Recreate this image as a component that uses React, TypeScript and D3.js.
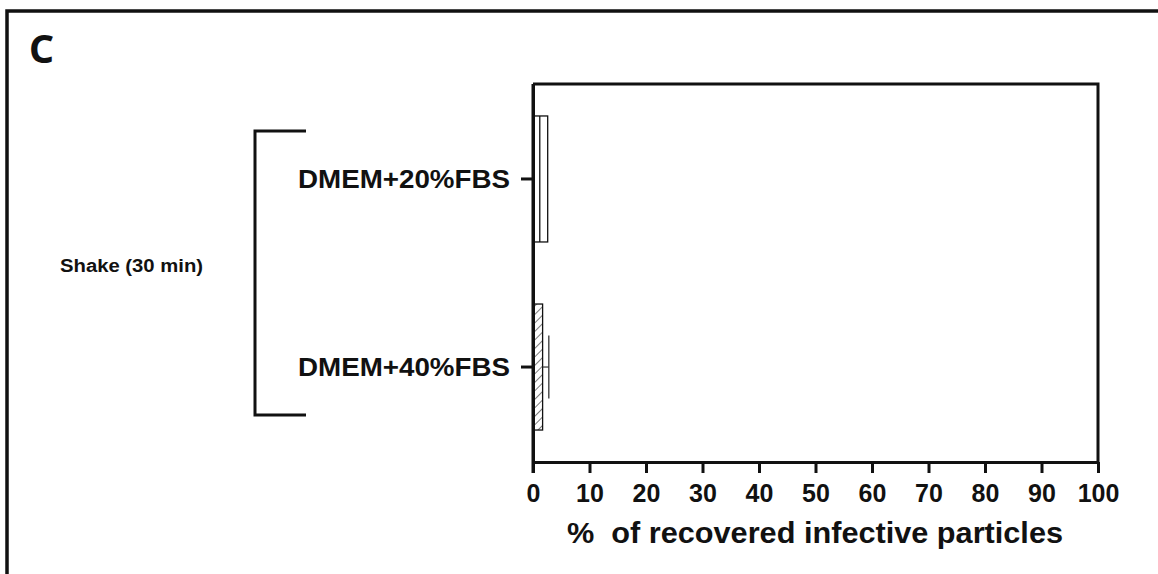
import { FC, useRef, useEffect } from 'react'
import * as d3 from 'd3'

const categories = ['DMEM+20%FBS', 'DMEM+40%FBS']
const means = [1.2, 1.7]
const errors = [1.4, 1.1]
const groupLabel = 'Shake (30 min)'
const xTicks = [0, 10, 20, 30, 40, 50, 60, 70, 80, 90, 100]
const xTitle = '%\u00a0 of recovered infective particles'
const panelLetter = 'C'

const FONT = "'Liberation Sans', Arial, Helvetica, sans-serif"

const App: FC = () => {
  const svgRef = useRef<SVGSVGElement>(null)

  useEffect(() => {
    if (!svgRef.current) return
    const svg = d3.select(svgRef.current)
    svg.selectAll('*').remove()

    const width = 1158
    const height = 574
    const plot = { left: 533, right: 1098, top: 84, bottom: 462 }

    svg.attr('width', width).attr('height', height)

    // hatch for second bar
    svg.append('defs')
      .append('pattern')
      .attr('id', 'hatch')
      .attr('patternUnits', 'userSpaceOnUse')
      .attr('width', 6)
      .attr('height', 6)
      .attr('patternTransform', 'rotate(45)')
      .append('line')
      .attr('x1', 0).attr('y1', 0)
      .attr('x2', 0).attr('y2', 6)
      .attr('stroke', '#222')
      .attr('stroke-width', 1.2)

    // outer frame
    svg.append('rect')
      .attr('x', 7).attr('y', 11)
      .attr('width', 1200).attr('height', 600)
      .attr('fill', 'white')
      .attr('stroke', '#111')
      .attr('stroke-width', 3.5)

    svg.append('text')
      .attr('x', 29).attr('y', 63)
      .attr('font-family', "'Noto Sans', 'Open Sans', sans-serif")
      .attr('font-weight', 'bold')
      .attr('font-size', 39)
      .attr('fill', '#111')
      .text(panelLetter)

    const xScale = d3.scaleLinear()
      .domain([0, 100])
      .range([plot.left, plot.right])

    const yScale = d3.scaleBand()
      .domain(categories)
      .range([plot.top, plot.bottom])
      .paddingInner(0.33)
      .paddingOuter(0.17)

    const g = svg.append('g')

    // bars
    categories.forEach((c, i) => {
      const y0 = yScale(c) || 0
      const bh = yScale.bandwidth()
      const cy = y0 + bh / 2
      if (i === 0) {
        // open bar, error drawn as box to mean + error
        g.append('rect')
          .attr('x', xScale(0))
          .attr('y', y0)
          .attr('width', xScale(means[i] + errors[i]) - xScale(0))
          .attr('height', bh)
          .attr('fill', 'white')
          .attr('stroke', '#111')
          .attr('stroke-width', 1.3)
        g.append('line')
          .attr('x1', xScale(means[i])).attr('x2', xScale(means[i]))
          .attr('y1', y0).attr('y2', y0 + bh)
          .attr('stroke', '#111')
          .attr('stroke-width', 1.3)
      } else {
        g.append('rect')
          .attr('x', xScale(0))
          .attr('y', y0)
          .attr('width', xScale(means[i]) - xScale(0))
          .attr('height', bh)
          .attr('fill', 'url(#hatch)')
          .attr('stroke', '#111')
          .attr('stroke-width', 1.3)
        const ex = xScale(means[i] + errors[i])
        g.append('line')
          .attr('x1', xScale(means[i])).attr('x2', ex)
          .attr('y1', cy).attr('y2', cy)
          .attr('stroke', '#333')
          .attr('stroke-width', 1.2)
        g.append('line')
          .attr('x1', ex).attr('x2', ex)
          .attr('y1', cy - bh / 4).attr('y2', cy + bh / 4)
          .attr('stroke', '#333')
          .attr('stroke-width', 1.3)
      }
    })

    // plot frame top and right
    g.append('path')
      .attr('d', `M${plot.left},${plot.top}H${plot.right}V${plot.bottom}`)
      .attr('fill', 'none')
      .attr('stroke', '#111')
      .attr('stroke-width', 3)

    // x axis
    const xAxis = g.append('g')
      .attr('transform', `translate(0,${plot.bottom})`)
      .call(d3.axisBottom(xScale).tickValues(xTicks).tickSize(11).tickSizeOuter(0).tickPadding(10))
    xAxis.select('.domain').attr('stroke', '#111').attr('stroke-width', 3)
    xAxis.selectAll('.tick line').attr('stroke', '#111').attr('stroke-width', 3)
    xAxis.selectAll('.tick text')
      .attr('fill', '#111')
      .attr('font-family', FONT)
      .attr('font-weight', 'bold')
      .attr('font-size', 25)
      .attr('dy', '0.74em')

    // y axis
    const yAxis = g.append('g')
      .attr('transform', `translate(${plot.left},0)`)
      .call(d3.axisLeft(yScale).tickSize(12).tickSizeOuter(0).tickPadding(11))
    yAxis.select('.domain').attr('stroke', '#111').attr('stroke-width', 3)
    yAxis.selectAll('.tick line').attr('stroke', '#111').attr('stroke-width', 3)
    yAxis.selectAll('.tick text')
      .attr('fill', '#111')
      .attr('font-family', FONT)
      .attr('font-weight', 'bold')
      .attr('font-size', 25)
      .attr('dy', '0.36em')
      .attr('textLength', 212)
      .attr('lengthAdjust', 'spacingAndGlyphs')

    // extend y axis down to the zero tick
    g.append('line')
      .attr('x1', plot.left).attr('x2', plot.left)
      .attr('y1', plot.top).attr('y2', plot.bottom + 11)
      .attr('stroke', '#111')
      .attr('stroke-width', 3)

    // x axis title
    svg.append('text')
      .attr('x', 567).attr('y', 543)
      .attr('font-family', FONT)
      .attr('font-weight', 'bold')
      .attr('font-size', 30)
      .attr('fill', '#111')
      .attr('textLength', 496)
      .attr('lengthAdjust', 'spacingAndGlyphs')
      .text(xTitle)

    // group bracket
    svg.append('path')
      .attr('d', 'M306,131H255V415H306')
      .attr('fill', 'none')
      .attr('stroke', '#111')
      .attr('stroke-width', 3)

    svg.append('text')
      .attr('x', 60).attr('y', 272)
      .attr('font-family', FONT)
      .attr('font-weight', 'bold')
      .attr('font-size', 18)
      .attr('fill', '#111')
      .attr('textLength', 143)
      .attr('lengthAdjust', 'spacingAndGlyphs')
      .text(groupLabel)
  }, [])

  return (
    <div style={{ position: 'absolute', left: 0, top: 0 }}>
      <svg ref={svgRef} style={{ display: 'block' }} />
    </div>
  )
}

export default App
